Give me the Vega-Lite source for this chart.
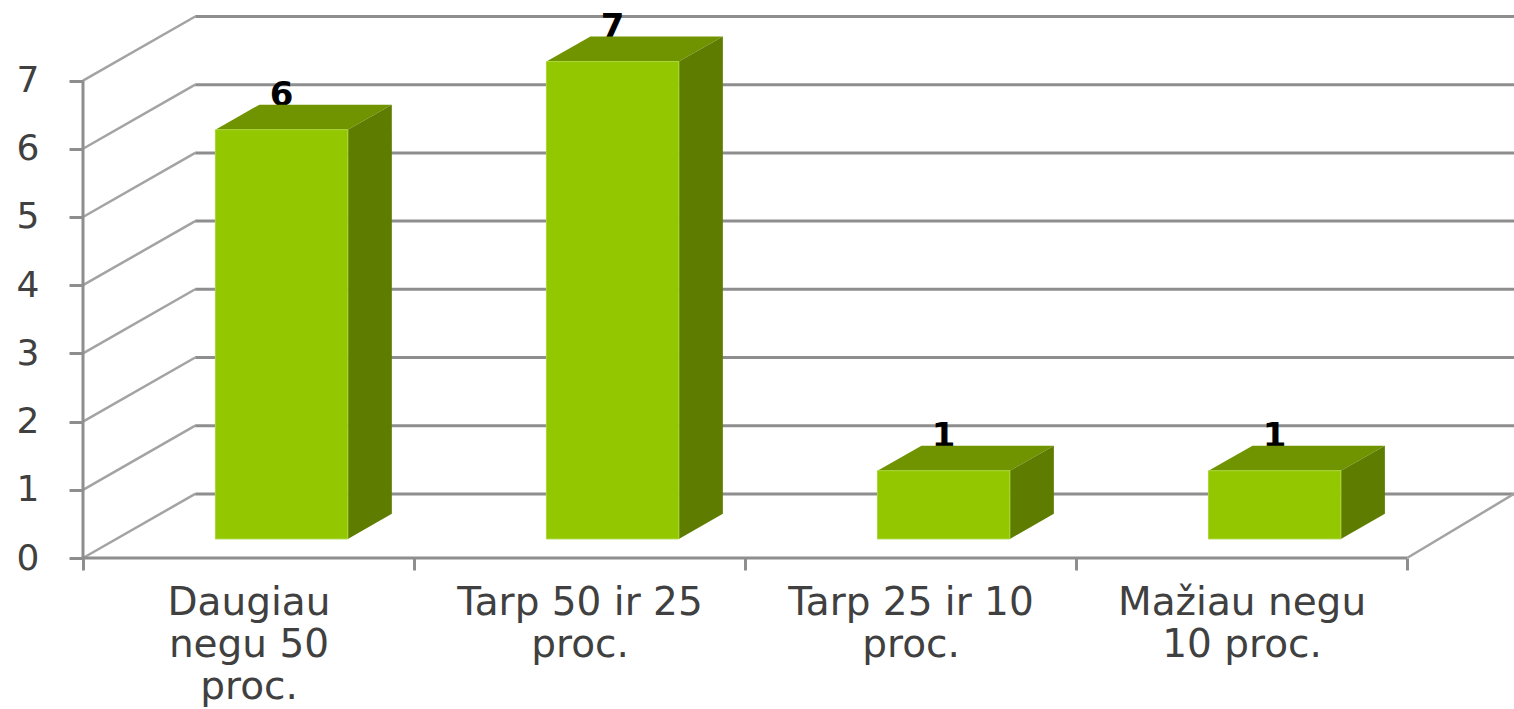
{
"$schema":"https://vega.github.io/schema/vega-lite/v6.json",
"width":1431,"height":542,
"autosize":{"type":"none"},
"padding":{"left":83,"top":16,"right":0,"bottom":151},
"background":"white",
"config":{"view":{"stroke":null}},
"datasets":{
"bars":[
{"position":0,"category":"Daugiau negu 50 proc.","value":6},
{"position":1,"category":"Tarp 50 ir 25 proc.","value":7},
{"position":2,"category":"Tarp 25 ir 10 proc.","value":1},
{"position":3,"category":"Mažiau negu 10 proc.","value":1}
],
"levels":[{"level":0},{"level":1},{"level":2},{"level":3},{"level":4},{"level":5},{"level":6},{"level":7}]
},
"resolve":{"axis":{"x":"independent","y":"independent"}},
"layer":[
{"data":{"name":"levels"},"transform":[{"calculate":"datum.level+0.94","as":"back"}],
"mark":{"type":"rule","color":"#a3a3a3","strokeWidth":2.5},
"encoding":{
"x":{"datum":0,"type":"quantitative","scale":{"domain":[0,4.323],"nice":false,"zero":false},
"axis":{"orient":"bottom","values":[0,1,2,3,4],"labels":false,"domain":false,"grid":false,"tickSize":12,"tickWidth":3,"tickColor":"#8e8e8e","title":null}},
"y":{"field":"level","type":"quantitative","scale":{"domain":[0,7.947],"nice":false,"zero":false},
"axis":{"orient":"left","values":[0,1,2,3,4,5,6,7],"domain":false,"grid":false,"tickSize":14,"tickWidth":3,"tickColor":"#8e8e8e","labelFont":"DejaVu Sans","labelFontSize":36,"labelColor":"#404040","labelPadding":30,"title":null}},
"x2":{"datum":0.339},"y2":{"field":"back"}}},
{"data":{"name":"levels"},"transform":[{"calculate":"datum.level+0.94","as":"back"}],
"mark":{"type":"rule","color":"#8e8e8e","strokeWidth":3},
"encoding":{
"x":{"datum":0.339,"type":"quantitative","scale":{"domain":[0,4.323],"nice":false,"zero":false},
"axis":{"orient":"bottom","values":[0.5,1.5,2.5,3.5],"ticks":false,"domain":false,"grid":false,"labelFont":"DejaVu Sans","labelFontSize":39,"labelColor":"#404040","labelLineHeight":42,"labelPadding":25,"labelOverlap":false,"labelFlush":false,"labelBound":false,"labelLimit":0,"labelAngle":0,"labelAlign":"center","labelBaseline":"top","title":null,
"labelExpr":"datum.value==0.5?['Daugiau','negu 50','proc.']:datum.value==1.5?['Tarp 50 ir 25','proc.']:datum.value==2.5?['Tarp 25 ir 10','proc.']:['Mažiau negu','10 proc.']"}},
"y":{"field":"back","type":"quantitative","scale":{"domain":[0,7.947],"nice":false,"zero":false},"axis":null},
"x2":{"datum":4.323}}},
{"data":{"name":"levels"},"transform":[{"filter":"datum.level==0"}],
"mark":{"type":"rule","color":"#8e8e8e","strokeWidth":3},
"encoding":{
"x":{"datum":0,"type":"quantitative","scale":{"domain":[0,4.323],"nice":false,"zero":false},"axis":null},
"y":{"datum":0,"type":"quantitative","scale":{"domain":[0,7.947],"nice":false,"zero":false},"axis":null},
"x2":{"datum":4}}},
{"data":{"name":"levels"},"transform":[{"filter":"datum.level==0"}],
"mark":{"type":"rule","color":"#8e8e8e","strokeWidth":3},
"encoding":{
"x":{"datum":0,"type":"quantitative","scale":{"domain":[0,4.323],"nice":false,"zero":false},"axis":null},
"y":{"datum":0,"type":"quantitative","scale":{"domain":[0,7.947],"nice":false,"zero":false},"axis":null},
"y2":{"datum":7}}},
{"data":{"name":"levels"},"transform":[{"filter":"datum.level==0"}],
"mark":{"type":"rule","color":"#a3a3a3","strokeWidth":2.5},
"encoding":{
"x":{"datum":4,"type":"quantitative","scale":{"domain":[0,4.323],"nice":false,"zero":false},"axis":null},
"y":{"datum":0,"type":"quantitative","scale":{"domain":[0,7.947],"nice":false,"zero":false},"axis":null},
"x2":{"datum":4.323},"y2":{"datum":0.94}}},
{"data":{"name":"bars"},"transform":[{"calculate":"datum.position+0.6","as":"cx"},{"calculate":"datum.value+0.63","as":"ty"}],
"mark":{"type":"text","font":"DejaVu Sans","fontWeight":"bold","fontSize":34,"color":"#000000","baseline":"alphabetic","align":"center"},
"encoding":{
"x":{"field":"cx","type":"quantitative","scale":{"domain":[0,4.323],"nice":false,"zero":false},"axis":null},
"y":{"field":"ty","type":"quantitative","scale":{"domain":[0,7.947],"nice":false,"zero":false},"axis":null},
"text":{"field":"value","type":"quantitative"}}},
{"data":{"name":"bars"},"transform":[{"calculate":"0","as":"near"},{"calculate":"1","as":"far"},{"fold":["near","far"],"as":["end","t"]},
{"calculate":"datum.position+0.4+0.133*datum.t","as":"xa"},{"calculate":"datum.position+0.8+0.133*datum.t","as":"xb"},{"calculate":"datum.value+0.28+0.367*datum.t","as":"yy"}],
"mark":{"type":"area","orient":"horizontal","color":"#709400"},
"encoding":{
"y":{"field":"yy","type":"quantitative","scale":{"domain":[0,7.947],"nice":false,"zero":false},"axis":null},
"x":{"field":"xa","type":"quantitative","scale":{"domain":[0,4.323],"nice":false,"zero":false},"axis":null},
"x2":{"field":"xb"},"detail":{"field":"category"}}},
{"data":{"name":"bars"},"transform":[{"calculate":"0","as":"near"},{"calculate":"1","as":"far"},{"fold":["near","far"],"as":["end","t"]},
{"calculate":"datum.position+0.8+0.133*datum.t","as":"xx"},{"calculate":"0.28+0.367*datum.t","as":"ya"},{"calculate":"datum.value+0.28+0.367*datum.t","as":"yb"}],
"mark":{"type":"area","orient":"vertical","color":"#5e7d00"},
"encoding":{
"x":{"field":"xx","type":"quantitative","scale":{"domain":[0,4.323],"nice":false,"zero":false},"axis":null},
"y":{"field":"ya","type":"quantitative","scale":{"domain":[0,7.947],"nice":false,"zero":false},"axis":null},
"y2":{"field":"yb"},"detail":{"field":"category"}}},
{"data":{"name":"bars"},"transform":[{"calculate":"datum.position+0.4","as":"xa"},{"calculate":"datum.position+0.8","as":"xb"},{"calculate":"datum.value+0.28","as":"yb"},{"calculate":"0.28","as":"ya"}],
"mark":{"type":"rect","color":"#93c800","stroke":"#a9d63a","strokeWidth":1},
"encoding":{
"x":{"field":"xa","type":"quantitative","scale":{"domain":[0,4.323],"nice":false,"zero":false},"axis":null},
"x2":{"field":"xb"},
"y":{"field":"ya","type":"quantitative","scale":{"domain":[0,7.947],"nice":false,"zero":false},"axis":null},
"y2":{"field":"yb"}}}
]
}
